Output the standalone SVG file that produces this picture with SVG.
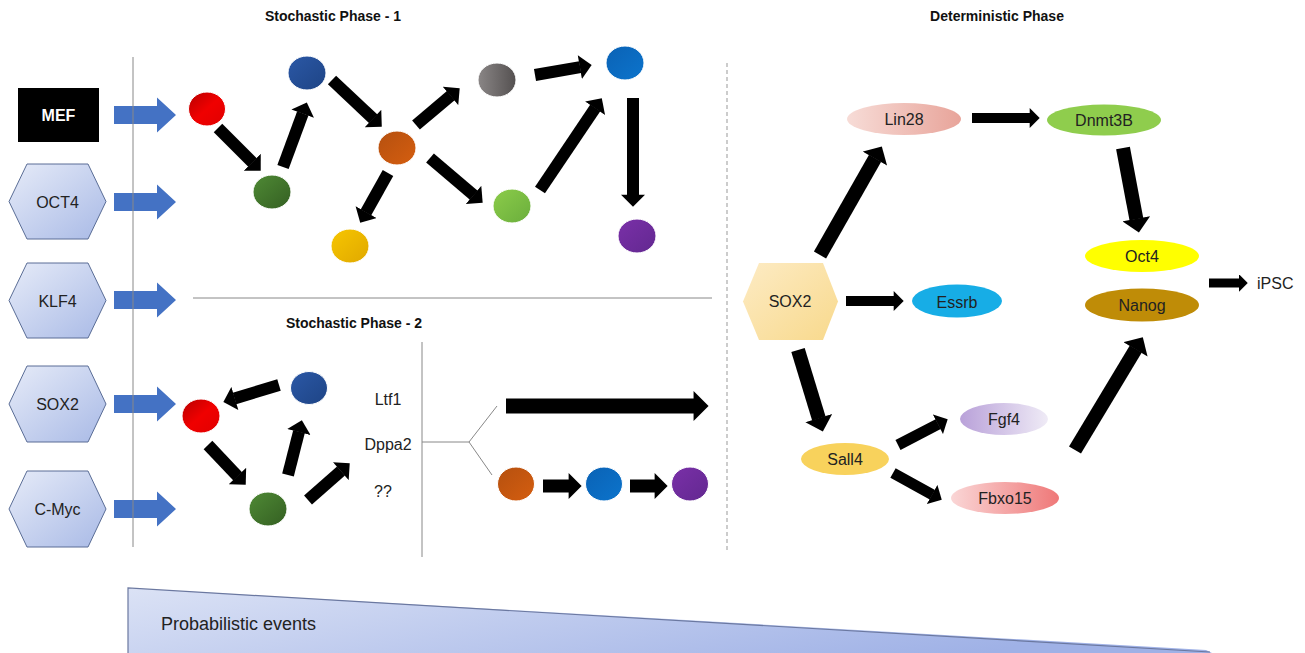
<svg xmlns="http://www.w3.org/2000/svg" width="1305" height="653" viewBox="0 0 1305 653">
<defs>
<style>
.t{font-family:"Liberation Sans",Arial,sans-serif;font-size:16px;fill:#222;text-anchor:middle;dominant-baseline:central}
.title{font-family:"Liberation Sans",Arial,sans-serif;font-size:14px;font-weight:bold;fill:#111;text-anchor:middle;dominant-baseline:central}
.hexL{fill:url(#gHex);stroke:#5a6d96;stroke-width:1}
.barr{fill:#4472c4}
.con{stroke:#000;fill:none;marker-end:url(#ah)}
.thin{stroke:#888;stroke-width:1;fill:none}
.c{stroke:#fff;stroke-width:1}
</style>
<marker id="ah" viewBox="0 0 10 20" refX="0.3" refY="10" markerWidth="1.05" markerHeight="2" markerUnits="strokeWidth" orient="auto">
<path d="M0,0 L10,10 L0,20 z" fill="#000"/>
</marker>
<linearGradient id="gHex" x1="0" y1="0" x2="1" y2="1"><stop offset="0" stop-color="#e6ebf8"/><stop offset="1" stop-color="#a9bae6"/></linearGradient>
<linearGradient id="gSox" x1="0" y1="0" x2="1" y2="1"><stop offset="0" stop-color="#fdebc4"/><stop offset="1" stop-color="#f8d98c"/></linearGradient>
<linearGradient id="gLin" x1="0" y1="0" x2="1" y2="0"><stop offset="0" stop-color="#f7dcd7"/><stop offset="1" stop-color="#e8a49a"/></linearGradient>
<linearGradient id="gFgf" x1="0" y1="0" x2="1" y2="0"><stop offset="0" stop-color="#b9a1d9"/><stop offset="1" stop-color="#efebf6"/></linearGradient>
<linearGradient id="gFbx" x1="0" y1="0" x2="1" y2="0"><stop offset="0" stop-color="#fad6d6"/><stop offset="1" stop-color="#ef7878"/></linearGradient>
<linearGradient id="gTri" x1="0" y1="0" x2="1" y2="0.3"><stop offset="0" stop-color="#dbe2f5"/><stop offset="1" stop-color="#9fb1e6"/></linearGradient>
<linearGradient id="gRed" x1="0" y1="0" x2="1" y2="1"><stop offset="0" stop-color="#b80000"/><stop offset="0.5" stop-color="#f00000"/><stop offset="1" stop-color="#e00000"/></linearGradient>
<linearGradient id="gGrn" x1="0" y1="0" x2="1" y2="1"><stop offset="0" stop-color="#4f8a35"/><stop offset="1" stop-color="#345f22"/></linearGradient>
<linearGradient id="gDblue" x1="0" y1="0" x2="1" y2="1"><stop offset="0" stop-color="#2b58a6"/><stop offset="1" stop-color="#1e4485"/></linearGradient>
<linearGradient id="gOrg" x1="0" y1="0" x2="1" y2="1"><stop offset="0" stop-color="#b5500f"/><stop offset="1" stop-color="#d55e10"/></linearGradient>
<linearGradient id="gYel" x1="0" y1="0" x2="1" y2="1"><stop offset="0" stop-color="#f7c600"/><stop offset="1" stop-color="#e0a800"/></linearGradient>
<linearGradient id="gGray" x1="0" y1="0" x2="1" y2="0"><stop offset="0" stop-color="#8a8686"/><stop offset="1" stop-color="#545050"/></linearGradient>
<linearGradient id="gBlue" x1="0" y1="0" x2="1" y2="1"><stop offset="0" stop-color="#0a62b5"/><stop offset="1" stop-color="#0c74cc"/></linearGradient>
<linearGradient id="gLgr" x1="0" y1="0" x2="1" y2="1"><stop offset="0" stop-color="#8ccc4a"/><stop offset="1" stop-color="#6aae3c"/></linearGradient>
<linearGradient id="gPur" x1="0" y1="0" x2="1" y2="1"><stop offset="0" stop-color="#7a30a8"/><stop offset="1" stop-color="#622890"/></linearGradient>
</defs>
<rect width="1305" height="653" fill="#fff"/>

<g id="titles">
<text class="title" x="333" y="16">Stochastic Phase - 1</text>
<text class="title" x="997" y="16">Deterministic Phase</text>
<text class="title" x="354" y="323">Stochastic Phase - 2</text>
</g>

<g id="probabilistic-events">
<polygon points="128,588 1206,650 1212,653 128,653" fill="url(#gTri)"/>
<polyline points="128,653 128,588 1210,652" fill="none" stroke="#6b78a0" stroke-width="1.2"/>
<text x="161" y="624" font-family="Liberation Sans, Arial, sans-serif" font-size="18" fill="#222" dominant-baseline="central">Probabilistic events</text>
</g>

<g id="input-arrows">
<polygon class="barr" points="114,106 157,106 157,97.5 176,115 157,132.5 157,124 114,124"/>
<polygon class="barr" points="114,193 157,193 157,184.5 176,202 157,219.5 157,211 114,211"/>
<polygon class="barr" points="114,291 157,291 157,282.5 176,300 157,317.5 157,309 114,309"/>
<polygon class="barr" points="114,395 157,395 157,386.5 176,404 157,421.5 157,413 114,413"/>
<polygon class="barr" points="114,500 157,500 157,491.5 176,509 157,526.5 157,518 114,518"/>
</g>

<g id="MEF">
<rect x="18" y="88" width="81" height="54" fill="#000"/>
<text class="t" x="58.5" y="115" style="fill:#fff;font-weight:bold">MEF</text>
</g>
<g id="OCT4">
<polygon class="hexL" points="27,164 88,164 106,201.5 88,239 27,239 9,201.5"/>
<text class="t" x="57.5" y="202">OCT4</text>
</g>
<g id="KLF4">
<polygon class="hexL" points="27,263 88,263 106,300.5 88,338 27,338 9,300.5"/>
<text class="t" x="57.5" y="301">KLF4</text>
</g>
<g id="SOX2-left">
<polygon class="hexL" points="27,366 88,366 106,404 88,442 27,442 9,404"/>
<text class="t" x="57.5" y="404">SOX2</text>
</g>
<g id="C-Myc">
<polygon class="hexL" points="27,471 88,471 106,509 88,547 27,547 9,509"/>
<text class="t" x="57.5" y="509">C-Myc</text>
</g>

<g id="divider-lines">
<line class="thin" x1="133" y1="57" x2="133" y2="547" stroke="#555"/>
<line class="thin" x1="193" y1="298" x2="712" y2="298" stroke="#999"/>
<line x1="727" y1="63" x2="727" y2="552" stroke="#999" stroke-width="1" stroke-dasharray="4,3"/>
<line class="thin" x1="422" y1="342" x2="422" y2="557" stroke="#777"/>
<polyline class="thin" points="422,442 469,442 497,406"/>
<line class="thin" x1="469" y1="442" x2="492" y2="475"/>
</g>

<g id="phase1-cells">
<ellipse id="p1-red" class="c" cx="207" cy="109" rx="18.5" ry="17" fill="url(#gRed)"/>
<ellipse id="p1-green" class="c" cx="272" cy="192" rx="19" ry="17" fill="url(#gGrn)"/>
<ellipse id="p1-darkblue" class="c" cx="307" cy="73" rx="19" ry="17" fill="url(#gDblue)"/>
<ellipse id="p1-orange" class="c" cx="397" cy="148" rx="19" ry="17" fill="url(#gOrg)"/>
<ellipse id="p1-yellow" class="c" cx="350" cy="246" rx="19" ry="17" fill="url(#gYel)"/>
<ellipse id="p1-gray" class="c" cx="497" cy="80" rx="19" ry="17" fill="url(#gGray)"/>
<ellipse id="p1-blue" class="c" cx="625" cy="63" rx="19" ry="17" fill="url(#gBlue)"/>
<ellipse id="p1-lightgreen" class="c" cx="512" cy="206" rx="19" ry="17" fill="url(#gLgr)"/>
<ellipse id="p1-purple" class="c" cx="637" cy="236" rx="19" ry="17" fill="url(#gPur)"/>
</g>

<g id="phase2-cells">
<ellipse id="p2-red" class="c" cx="201" cy="416" rx="19" ry="17" fill="url(#gRed)"/>
<ellipse id="p2-darkblue" class="c" cx="309" cy="388" rx="18.5" ry="16.5" fill="url(#gDblue)"/>
<ellipse id="p2-green" class="c" cx="268" cy="509" rx="19" ry="17" fill="url(#gGrn)"/>
<ellipse id="p2-orange" class="c" cx="516" cy="484" rx="18.5" ry="17" fill="url(#gOrg)"/>
<ellipse id="p2-blue" class="c" cx="604" cy="484" rx="18.5" ry="17" fill="url(#gBlue)"/>
<ellipse id="p2-purple" class="c" cx="690" cy="484" rx="18.5" ry="17" fill="url(#gPur)"/>
</g>

<g id="phase2-labels">
<text class="t" x="388" y="399">Ltf1</text>
<text class="t" x="388" y="444">Dppa2</text>
<text class="t" x="383" y="491">??</text>
</g>

<g id="SOX2-right">
<polygon points="759,263 823,263 838,301.5 823,340 759,340 743,301.5" fill="url(#gSox)"/>
<text class="t" x="790" y="301">SOX2</text>
</g>
<g id="Lin28">
<ellipse cx="904" cy="119" rx="57" ry="16" fill="url(#gLin)"/>
<text class="t" x="904" y="119">Lin28</text>
</g>
<g id="Dnmt3B">
<ellipse cx="1104" cy="120" rx="57" ry="15.5" fill="#8fcd4d"/>
<text class="t" x="1104" y="120">Dnmt3B</text>
</g>
<g id="Essrb">
<ellipse cx="957" cy="301" rx="45" ry="16.5" fill="#17ade6"/>
<text class="t" x="957" y="302">Essrb</text>
</g>
<g id="Oct4">
<ellipse cx="1142" cy="256" rx="57" ry="16" fill="#ffff00"/>
<text class="t" x="1142" y="256">Oct4</text>
</g>
<g id="Nanog">
<ellipse cx="1142" cy="305" rx="57" ry="16.5" fill="#bf8c07"/>
<text class="t" x="1142" y="305">Nanog</text>
</g>
<g id="Sall4">
<ellipse cx="845" cy="459" rx="44" ry="16" fill="#f8d25c"/>
<text class="t" x="845" y="459">Sall4</text>
</g>
<g id="Fgf4">
<ellipse cx="1004" cy="419" rx="44" ry="16" fill="url(#gFgf)"/>
<text class="t" x="1004" y="419">Fgf4</text>
</g>
<g id="Fbxo15">
<ellipse cx="1005" cy="498" rx="54" ry="16" fill="url(#gFbx)"/>
<text class="t" x="1005" y="498">Fbxo15</text>
</g>
<g id="iPSC">
<text class="t" x="1257" y="283" style="text-anchor:start">iPSC</text>
</g>

<g id="connectors">
<line class="con" stroke-width="12" x1="218" y1="128" x2="252.5" y2="162.5"/>
<line class="con" stroke-width="12" x1="283" y1="167" x2="302.8" y2="113.3"/>
<line class="con" stroke-width="12" x1="332" y1="80" x2="373.3" y2="118.8"/>
<line class="con" stroke-width="12" x1="416" y1="125" x2="450.8" y2="95.7"/>
<line class="con" stroke-width="12" x1="430" y1="158" x2="473.8" y2="195.2"/>
<line class="con" stroke-width="12" x1="388" y1="173" x2="365.9" y2="212.5"/>
<line class="con" stroke-width="12" x1="535" y1="75" x2="580.2" y2="67.1"/>
<line class="con" stroke-width="12" x1="540" y1="190" x2="595.3" y2="107.9"/>
<line class="con" stroke-width="12" x1="633" y1="98" x2="633" y2="195"/>

<line class="con" stroke-width="12" x1="279" y1="385" x2="234.5" y2="398.5"/>
<line class="con" stroke-width="12" x1="208" y1="445" x2="237.7" y2="476.3"/>
<line class="con" stroke-width="12" x1="288" y1="475" x2="299" y2="431.6"/>
<line class="con" stroke-width="12" x1="308" y1="500" x2="341" y2="470.9"/>
<line class="con" stroke-width="15" x1="506" y1="406" x2="694" y2="406"/>
<line class="con" stroke-width="13" x1="543" y1="486" x2="569" y2="486"/>
<line class="con" stroke-width="13" x1="630" y1="486" x2="655" y2="486"/>

<line class="con" stroke-width="14" x1="820" y1="255" x2="875.1" y2="158.2"/>
<line class="con" stroke-width="10" x1="972" y1="118" x2="1030" y2="118"/>
<line class="con" stroke-width="10" x1="846" y1="301" x2="894" y2="301"/>
<line class="con" stroke-width="14" x1="1123" y1="148" x2="1136.4" y2="219.2"/>
<line class="con" stroke-width="14" x1="798" y1="350" x2="818.9" y2="418.6"/>
<line class="con" stroke-width="11" x1="898" y1="445" x2="938.2" y2="424.1"/>
<line class="con" stroke-width="11" x1="893" y1="473" x2="932.4" y2="494.7"/>
<line class="con" stroke-width="14" x1="1075" y1="450" x2="1135.8" y2="349"/>
<line class="con" stroke-width="9" x1="1209" y1="283" x2="1239" y2="283"/>
</g>
</svg>
